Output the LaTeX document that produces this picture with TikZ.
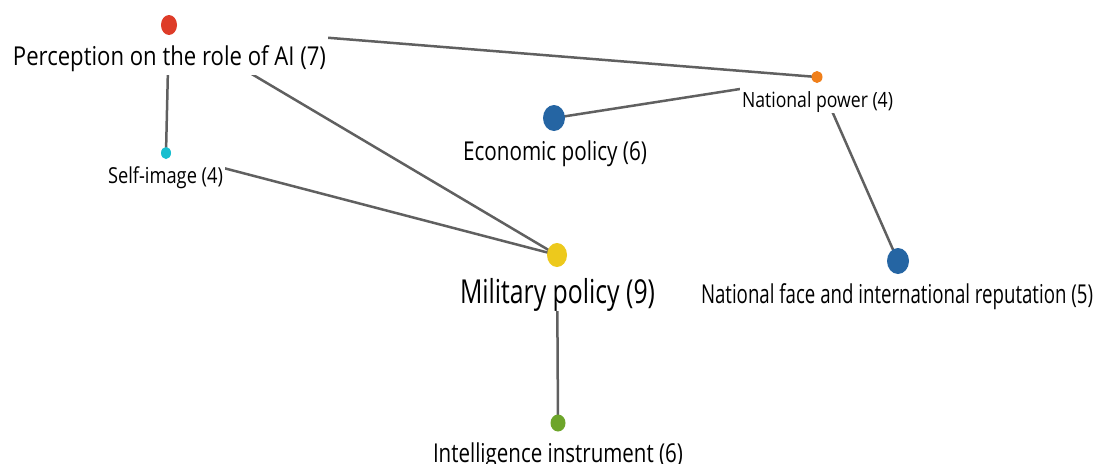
\documentclass[tikz,border=0pt]{standalone}
\usepackage{fontspec}
\usepackage{graphicx}
\setmainfont{Open Sans}
\usetikzlibrary{shapes.geometric}
\pgfdeclarelayer{fg}
\pgfsetlayers{main,fg}
\definecolor{cRed}{HTML}{DE3C28}
\definecolor{cCyan}{HTML}{17BECF}
\definecolor{cBlue}{HTML}{2565A3}
\definecolor{cOrange}{HTML}{F07F1A}
\definecolor{cYellow}{HTML}{EDC91C}
\definecolor{cGreen}{HTML}{6DA52A}
\definecolor{cEdge}{HTML}{606060}
\newcommand\fitw[3]{{\fontsize{#1}{#1}\selectfont\resizebox{#2}{\height}{#3}}}
\tikzset{
  dot/.style={ellipse, inner sep=0pt, draw=none},
  lbl/.style={anchor=base, fill=white, inner xsep=2pt, inner ysep=0pt, text=black},
  link/.style={draw=cEdge, line width=2.5pt}
}
\begin{document}
\begin{tikzpicture}[x=1pt,y=-1pt]
\useasboundingbox (0,0) rectangle (1099,463);
% dots (front layer)
\begin{pgfonlayer}{fg}
\node[dot, fill=cRed, minimum width=16pt, minimum height=20pt] (per) at (169,25) {};
\node[dot, fill=cCyan, minimum width=10pt, minimum height=12pt] (self) at (166,153) {};
\node[dot, fill=cOrange, minimum width=11pt, minimum height=12pt] (np) at (817,77) {};
\node[dot, fill=cBlue, minimum width=22pt, minimum height=26pt] (eco) at (554,118) {};
\node[dot, fill=cYellow, minimum width=20pt, minimum height=24pt] (mil) at (557,255) {};
\node[dot, fill=cBlue, minimum width=22pt, minimum height=26pt] (nf) at (898,261) {};
\node[dot, fill=cGreen, minimum width=15pt, minimum height=17pt] (int) at (558,423) {};
\end{pgfonlayer}
% labels and connectors, in drawing order
\node[lbl, text height=56pt, text depth=8pt] (ecoL) at (555,160) {\fitw{26pt}{184pt}{Economic policy (6)}};
\node[lbl, text height=56pt, text depth=8pt] (nfL) at (897,303) {\fitw{26pt}{392pt}{National face and international reputation (5)}};
\node[lbl, text height=48pt, text depth=8pt] (intL) at (558,462) {\fitw{26pt}{250pt}{Intelligence instrument (6)}};
\draw[link] (np.center) -- (eco.center);
\draw[link] (np.center) -- (nf.center);
\node[lbl, text height=37pt, text depth=6pt] (npL) at (817.5,107) {\fitw{21pt}{151pt}{National power (4)}};
\draw[link] (per.center) -- (np.center);
\draw[link] (mil.center) -- (int.center);
\node[lbl, text height=61pt, text depth=8pt] (milL) at (557.5,303) {\fitw{33pt}{195pt}{Military policy (9)}};
\draw[link] (self.center) -- (mil.center);
\node[lbl, text height=37pt, text depth=8pt] (selfL) at (165.5,183) {\fitw{22pt}{115pt}{Self-image (4)}};
\draw[link] (per.center) -- (self.center);
\draw[link] (per.center) -- (mil.center);
\node[lbl, text height=52pt, text depth=10pt] (perL) at (169.5,65) {\fitw{26pt}{313pt}{Perception on the role of AI (7)}};
\end{tikzpicture}
\end{document}
